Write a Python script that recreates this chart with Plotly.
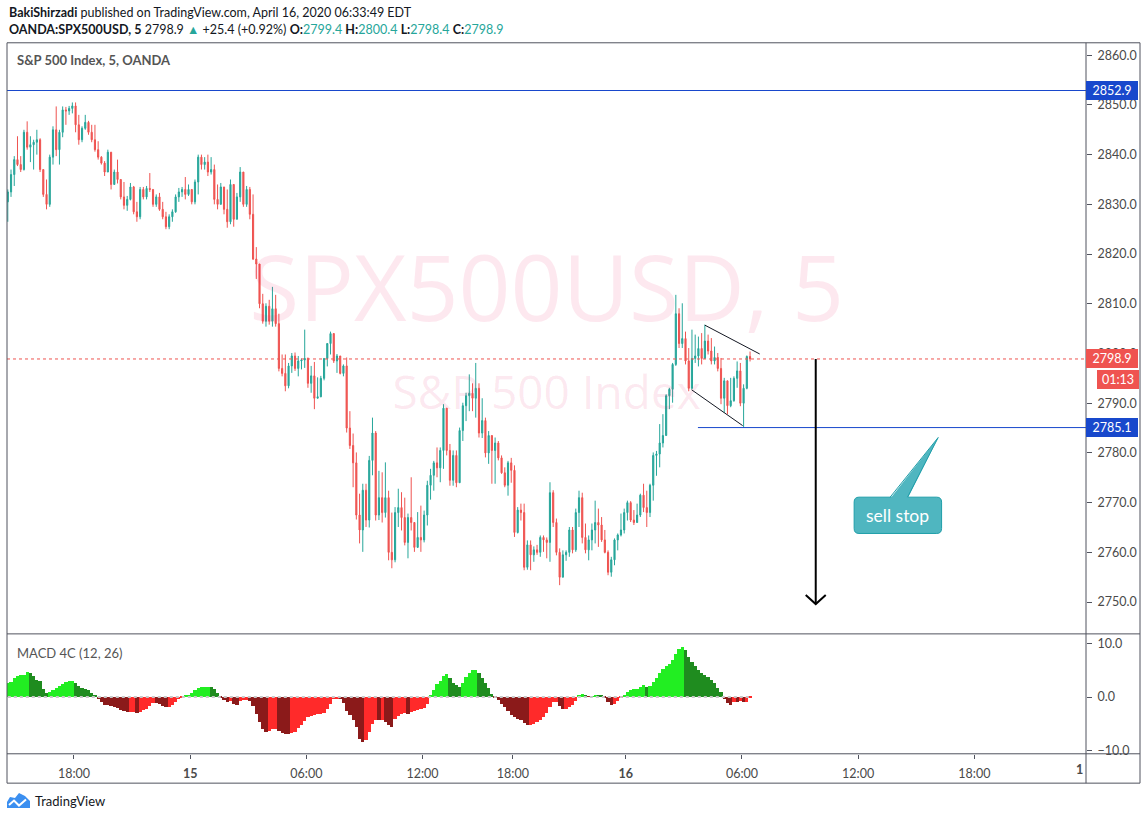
import numpy as np
import plotly.graph_objs as go

opens = [
    2830.5, 2832.5, 2836, 2839, 2838, 2837, 2844.5, 2841.5, 2842, 2842.5,
    2843, 2837, 2832, 2830, 2839.5, 2845, 2841, 2844.5, 2849, 2848.8,
    2849.3, 2849.8, 2846, 2843, 2845.3, 2846.5, 2844.5, 2843, 2841, 2839.5,
    2838.3, 2836.5, 2840.5, 2834, 2836.5, 2835, 2831.5, 2829.8, 2831, 2833.5,
    2828.5, 2827.5, 2833, 2831.5, 2833.2, 2833, 2830, 2831.5, 2829, 2827.5,
    2825.5, 2827.5, 2828.5, 2831.5, 2832.5, 2833, 2832, 2833, 2830.5, 2834.5,
    2839.5, 2838, 2838.5, 2836.5, 2837, 2831, 2830, 2833.5, 2829, 2826.5,
    2834, 2827, 2831.5, 2836.5, 2830, 2833, 2828, 2819, 2818, 2810,
    2806.5, 2809.5, 2806.5, 2809, 2806, 2797, 2796, 2793.5, 2797.5, 2799.5,
    2797, 2798.5, 2798.7, 2799, 2794, 2795.5, 2791, 2791.3, 2795, 2799,
    2802, 2804, 2798.5, 2799.5, 2796, 2797.5, 2785, 2781.5, 2778, 2767.5,
    2764.5, 2772.5, 2766.5, 2778.5, 2784, 2767.5, 2771, 2768, 2771, 2760,
    2758.5, 2768, 2769, 2767, 2762, 2767, 2766, 2761, 2763, 2762.5,
    2767.5, 2773.5, 2775.5, 2778, 2777, 2780.5, 2789, 2780.5, 2774.5, 2779.5,
    2774, 2784.5, 2789.5, 2791.5, 2792, 2791, 2793, 2784, 2786.5, 2780,
    2783.5, 2780.5, 2782, 2779, 2776, 2773.5, 2778, 2776.5, 2764, 2768.5,
    2768, 2757, 2761.5, 2759.5, 2760.5, 2760, 2763, 2762.5, 2762, 2772,
    2766, 2760, 2755, 2759.5, 2760, 2764.5, 2760.5, 2768, 2771, 2763,
    2760.5, 2762.5, 2764.5, 2766, 2765.5, 2762.5, 2760, 2756, 2758.5, 2762.5,
    2763.5, 2764.5, 2768, 2770, 2766.5, 2766, 2767.5, 2771.5, 2769, 2768,
    2773.5, 2779.5, 2779.8, 2782, 2783.5, 2791.5, 2792.8, 2797.8, 2808, 2802,
    2803, 2798.5, 2793, 2799, 2799.5, 2801, 2799, 2802.5, 2800.5, 2798.5,
    2799.2, 2797, 2791, 2794.5, 2789.5, 2790.5, 2795, 2796.5, 2790, 2793,
    2799.4,
]
highs = [
    2833, 2837, 2839.7, 2843.7, 2839.7, 2845, 2846.7, 2843.7, 2843, 2845,
    2843.3, 2837, 2835, 2840, 2845.7, 2849.7, 2845, 2849.7, 2849.6, 2849.8,
    2850.5, 2850.5, 2848, 2845.7, 2848, 2846.8, 2846, 2846, 2842.7, 2839.7,
    2838.7, 2841, 2840.5, 2837, 2839, 2835, 2834.5, 2831.7, 2834.3, 2833.7,
    2830.5, 2833.5, 2833.5, 2833.7, 2836.3, 2833, 2832, 2832.3, 2830.5, 2828.5,
    2828, 2829, 2832, 2833.3, 2833.5, 2835.5, 2834, 2833, 2835, 2840,
    2840, 2839.5, 2840, 2839.5, 2838, 2834, 2834.3, 2833.5, 2833, 2835,
    2834, 2832.3, 2837.5, 2836.5, 2833.7, 2833.5, 2832, 2821.4, 2818, 2812,
    2810.1, 2810.8, 2813.4, 2811.8, 2808, 2799.8, 2799.8, 2798.1, 2800.1, 2800.2,
    2799.5, 2799, 2804.8, 2799.2, 2797.5, 2798.3, 2795.2, 2795.5, 2799.1, 2802.1,
    2804.4, 2804.1, 2799.9, 2799.5, 2797.8, 2799.2, 2788.4, 2783.9, 2780.1, 2771.8,
    2773.8, 2773.8, 2779.4, 2787.1, 2784.4, 2776.4, 2776.1, 2778.1, 2772.4, 2768,
    2769.1, 2772.8, 2772.1, 2771, 2767.8, 2775.1, 2766.1, 2768.1, 2769.4, 2768.4,
    2774.4, 2776.8, 2778.4, 2781.1, 2781.1, 2789.8, 2789, 2781.8, 2780.5, 2780.5,
    2785.1, 2790.1, 2792.1, 2795.8, 2794, 2798.1, 2794, 2791, 2787.1, 2784.4,
    2783.5, 2783.1, 2782.4, 2779.5, 2777.1, 2778.4, 2779, 2777.5, 2769.1, 2769.8,
    2769.8, 2762.4, 2762.4, 2761.2, 2761.5, 2763.4, 2763.4, 2763, 2774.1, 2772.5,
    2766.8, 2760.8, 2760.4, 2760.4, 2765.1, 2765.1, 2768.8, 2772.4, 2772, 2765.8,
    2763.4, 2765.8, 2770.4, 2768.8, 2767.1, 2764.5, 2760.4, 2759.1, 2762.8, 2763.8,
    2767.8, 2768.8, 2770.4, 2770.3, 2768.5, 2769.8, 2771.8, 2773.8, 2772.4, 2773.8,
    2780.1, 2780.4, 2785.8, 2787.8, 2791.8, 2793.1, 2798.1, 2811.8, 2809.1, 2810.1,
    2804.4, 2801.1, 2804.8, 2803.8, 2803.4, 2804.1, 2805.8, 2803.8, 2803.1, 2801.4,
    2800.1, 2799.1, 2795.1, 2794.5, 2795.1, 2795.4, 2798.4, 2798.1, 2793.8, 2799.6,
    2800.4,
]
lows = [
    2826.5, 2831.5, 2833.7, 2837.7, 2836.5, 2836.8, 2841, 2838.5, 2837, 2840,
    2836.5, 2831.5, 2829, 2829.5, 2838, 2839.7, 2838, 2843.5, 2846, 2848,
    2848.3, 2844.5, 2842, 2842.5, 2845, 2844, 2842.5, 2840.6, 2839, 2838,
    2835.7, 2836.5, 2833, 2834, 2834.2, 2831, 2829, 2828.7, 2830.8, 2828,
    2826.5, 2827, 2831, 2831, 2832.5, 2829.5, 2829.5, 2828.7, 2827, 2825,
    2825, 2826.5, 2828.3, 2830.5, 2831.5, 2831, 2831.7, 2830, 2830, 2832,
    2837, 2837, 2835.7, 2836, 2830, 2829, 2830, 2828, 2825.3, 2826,
    2825.5, 2827, 2830.5, 2829.5, 2829.5, 2827, 2818.8, 2815, 2809.1, 2806,
    2805.4, 2805.8, 2805.4, 2805.4, 2796.4, 2795.4, 2792.4, 2793, 2796.1, 2796.5,
    2795.4, 2796.8, 2797.1, 2793.1, 2792.1, 2788.8, 2791, 2791.2, 2794.6, 2797.4,
    2799.8, 2798.1, 2796.1, 2795.8, 2795.4, 2784.1, 2780.8, 2773.1, 2766.6, 2761.8,
    2760.1, 2765.1, 2765, 2775.5, 2766.4, 2766.5, 2766, 2767, 2758.4, 2756.8,
    2758, 2765.1, 2764.4, 2761.4, 2758.8, 2764.4, 2760.1, 2761, 2760.1, 2762,
    2765.4, 2770.6, 2772.4, 2775.1, 2774.1, 2776.8, 2779.5, 2773.4, 2773.4, 2773.1,
    2774, 2782.4, 2786.4, 2788.4, 2788.4, 2787.1, 2783.1, 2783, 2779.1, 2777.8,
    2773.8, 2773.8, 2778.5, 2775.8, 2773.1, 2771.4, 2774, 2763.1, 2763.8, 2766.4,
    2756.4, 2756.5, 2756.4, 2758.1, 2759.5, 2759.1, 2760.1, 2758.8, 2758.1, 2765.1,
    2759.4, 2753.4, 2755, 2758.3, 2759.1, 2759.8, 2760.1, 2765.1, 2761.8, 2759.8,
    2758.4, 2760.4, 2761.8, 2761.1, 2762.1, 2759.8, 2755.4, 2755.1, 2757.4, 2760.4,
    2763.2, 2763.8, 2766.4, 2766.1, 2765.5, 2766, 2767.1, 2768.1, 2765.1, 2767.1,
    2770.4, 2775.4, 2777.1, 2781.1, 2783.5, 2788.8, 2790.1, 2797.5, 2801.1, 2801.1,
    2797.8, 2792.4, 2792.8, 2798.1, 2797.4, 2797.8, 2799, 2799.8, 2797.8, 2797.8,
    2796.4, 2789.8, 2788.1, 2787.8, 2789.2, 2790.3, 2793.1, 2789.4, 2785.1, 2792.8,
    2798.4,
]
closes = [
    2832.5, 2836, 2839, 2838, 2837, 2844.5, 2841.5, 2842, 2842.5, 2843,
    2837, 2832, 2830, 2839.5, 2845, 2841, 2844.5, 2849, 2848.8, 2849.3,
    2849.8, 2846, 2843, 2845.3, 2846.5, 2844.5, 2843, 2841, 2839.5, 2838.3,
    2836.5, 2840.5, 2834, 2836.5, 2835, 2831.5, 2829.8, 2831, 2833.5, 2828.5,
    2827.5, 2833, 2831.5, 2833.2, 2833, 2830, 2831.5, 2829, 2827.5, 2825.5,
    2827.5, 2828.5, 2831.5, 2832.5, 2833, 2832, 2833, 2830.5, 2834.5, 2839.5,
    2838, 2838.5, 2836.5, 2837, 2831, 2830, 2833.5, 2829, 2826.5, 2834,
    2827, 2831.5, 2836.5, 2830, 2833, 2828, 2819, 2818, 2810, 2806.5,
    2809.5, 2806.5, 2809, 2806, 2797, 2796, 2793.5, 2797.5, 2799.5, 2797,
    2798.5, 2798.7, 2799, 2794, 2795.5, 2791, 2791.3, 2795, 2799, 2802,
    2804, 2798.5, 2799.5, 2796, 2797.5, 2785, 2781.5, 2778, 2767.5, 2764.5,
    2772.5, 2766.5, 2778.5, 2784, 2767.5, 2771, 2768, 2771, 2760, 2758.5,
    2768, 2769, 2767, 2762, 2767, 2766, 2761, 2763, 2762.5, 2767.5,
    2773.5, 2775.5, 2778, 2777, 2780.5, 2789, 2780.5, 2774.5, 2779.5, 2774,
    2784.5, 2789.5, 2791.5, 2792, 2791, 2793, 2784, 2786.5, 2780, 2783.5,
    2780.5, 2782, 2779, 2776, 2773.5, 2778, 2776.5, 2764, 2768.5, 2768,
    2757, 2761.5, 2759.5, 2760.5, 2760, 2763, 2762.5, 2762, 2772, 2766,
    2760, 2755, 2759.5, 2760, 2764.5, 2760.5, 2768, 2771, 2763, 2760.5,
    2762.5, 2764.5, 2766, 2765.5, 2762.5, 2760, 2756, 2758.5, 2762.5, 2763.5,
    2764.5, 2768, 2770, 2766.5, 2766, 2767.5, 2771.5, 2769, 2768, 2773.5,
    2779.5, 2779.8, 2782, 2783.5, 2791.5, 2792.8, 2797.8, 2808, 2802, 2803,
    2798.5, 2793, 2799, 2799.5, 2801, 2799, 2802.5, 2800.5, 2798.5, 2799.2,
    2797, 2791, 2794.5, 2789.5, 2790.5, 2795, 2796.5, 2790, 2793, 2799.4,
    2798.9,
]
# MACD 4C (12, 26) histogram, one value per bar
macd_hist = [
    2.6, 2.8, 3.4, 3.8, 4.0, 4.1, 4.6, 4.4, 3.8, 3.2,
    2.9, 1.4, 0.7, 0.8, 1.3, 1.7, 2.0, 2.4, 2.8, 3.0,
    3.0, 2.5, 2.0, 1.6, 1.45, 1.2, 0.7, 0.2, -0.4, -1.0,
    -1.5, -1.6, -1.7, -1.9, -2.1, -2.4, -2.7, -2.8, -2.8, -2.8,
    -3.0, -2.8, -2.5, -2.2, -1.7, -1.1, -1.2, -1.4, -1.8, -2.0,
    -1.9, -1.5, -1.0, -0.5, -0.1, 0.3, 0.3, 0.6, 1.2, 1.6,
    1.75, 1.85, 1.85, 1.8, 1.4, 0.6, -0.1, -0.6, -1.0, -0.8,
    -1.4, -1.6, -0.8, -0.6, -0.6, -0.8, -1.8, -3.3, -4.8, -6.0,
    -6.5, -6.4, -6.0, -6.0, -6.3, -6.7, -6.9, -7.0, -6.8, -6.5,
    -5.8, -5.2, -4.5, -3.8, -3.6, -3.5, -3.3, -3.3, -3.0, -2.2,
    -1.4, -0.5, -0.4, -0.5, -1.1, -2.6, -3.5, -4.3, -5.7, -7.8,
    -8.4, -8.0, -6.6, -5.0, -4.3, -4.4, -4.4, -4.8, -5.2, -5.6,
    -4.2, -3.6, -3.3, -3.1, -3.2, -2.9, -2.6, -2.5, -2.3, -2.1,
    -1.4, 0.2, 1.3, 2.3, 3.0, 3.8, 4.2, 3.4, 2.6, 2.1,
    1.8, 2.6, 3.7, 4.5, 4.9, 4.9, 4.5, 3.5, 2.5, 1.6,
    0.5, -0.3, -0.7, -1.3, -2.0, -2.6, -3.4, -3.7, -4.1, -4.4,
    -4.9, -5.3, -5.3, -5.1, -4.7, -4.3, -3.7, -3.1, -1.9, -1.0,
    -1.0, -1.8, -2.2, -2.2, -2.0, -1.5, -0.8, 0.3, 0.5, 0.2,
    -0.05, 0.1, 0.4, 0.35, 0.2, -0.3, -0.9, -1.6, -1.4, -0.8,
    -0.2, 0.4, 0.9, 1.2, 1.4, 1.5, 1.8, 2.1, 1.8, 2.0,
    2.7, 3.5, 4.4, 5.1, 5.7, 6.1, 6.9, 8.0, 8.9, 9.3,
    8.6, 7.4, 6.5, 5.8, 5.0, 4.5, 4.0, 3.7, 3.2, 2.6,
    1.6, 0.9, -0.4, -1.1, -1.6, -0.9, -1.0, -0.8, -1.0, -0.9,
    -0.3,
]

# time axis in 5-minute slots, 0 = 15 Apr 00:00 (session breaks are compressed, as on TradingView)
time_ticks = [-72, 0, 72, 144, 200, 270, 342, 414, 486]
time_labels = ['18:00', '<b>15</b>', '06:00', '12:00', '18:00', '<b>16</b>', '06:00', '12:00', '18:00']
price_ticks = [2750, 2760, 2770, 2780, 2790, 2800, 2810, 2820, 2830, 2840, 2850, 2860]
macd_ticks = [-10, 0, 10]

last_price = 2798.9
resistance = 2852.9
sell_stop = 2785.1

# the page adds a few pixels below the figure, so the figure itself is kept a little shorter
W, H = 1147, 816
X_RANGE = [-113.5, 555.2]
UP, DOWN = '#26a69a', '#ef5350'
FRAME = '#50535e'
TEXT = '#131722'


def px(x):
    return x / W


def py(y):
    return 1 - y / H


bar_x = -113 + 2 * np.arange(len(closes))

hist_colors = []
for i, v in enumerate(macd_hist):
    prev = macd_hist[i - 1] if i > 0 else v - 1
    if v >= 0:
        hist_colors.append('#22ee22' if v >= prev else '#1f8c1f')
    else:
        hist_colors.append('#ff2a2a' if v >= prev else '#8b1a1a')

watermark = go.Scatter(
    x=[221, 221], y=[2811.2, 2791.1], mode='text',
    text=['SPX500USD, 5', 'S&P 500 Index'],
    textfont=dict(family='Open Sans', size=[91, 46], color='rgba(233,30,99,0.1)'),
    hoverinfo='skip', showlegend=False, xaxis='x', yaxis='y'
)

candles = go.Candlestick(
    x=bar_x, open=opens, high=highs, low=lows, close=closes,
    increasing=dict(line=dict(color=UP, width=1), fillcolor=UP),
    decreasing=dict(line=dict(color=DOWN, width=1), fillcolor=DOWN),
    whiskerwidth=0, showlegend=False, xaxis='x', yaxis='y'
)

hist = go.Bar(
    x=bar_x, y=macd_hist, width=2,
    marker=dict(color=hist_colors, line=dict(width=0)),
    showlegend=False, xaxis='x2', yaxis='y2'
)

# chart drawings (time slot, price)
wedge_upper = [(319.0, 2805.7), (353.0, 2799.9)]
wedge_lower = [(310.8, 2792.7), (342.4, 2785.5)]
support_start = 314.7
arrow_x, arrow_end = 387.7, 2749.6
callout = dict(x0=411.5, x1=465.7, y0=2763.8, y1=2771.1)
callout_tail = [(433.8, 2771.1), (463.6, 2783.1), (444.6, 2771.1)]

shapes = []


def line(x0, y0, x1, y1, color, width=1, dash='solid', xref='x', yref='y'):
    shapes.append(dict(type='line', x0=x0, y0=y0, x1=x1, y1=y1, xref=xref, yref=yref,
                       line=dict(color=color, width=width, dash=dash), layer='above'))


line(X_RANGE[0], resistance, X_RANGE[1], resistance, '#1848cc')
line(support_start, sell_stop, X_RANGE[1], sell_stop, '#1848cc')
line(X_RANGE[0], last_price, X_RANGE[1], last_price, DOWN, dash='dot')
line(*wedge_upper[0], *wedge_upper[1], '#131722')
line(*wedge_lower[0], *wedge_lower[1], '#131722')
line(arrow_x, last_price, arrow_x, arrow_end, '#000000', width=2)
shapes.append(dict(type='path', xref='x', yref='y', layer='above',
                   path=f'M {arrow_x - 6.2},{arrow_end + 1.8} L {arrow_x},{arrow_end} L {arrow_x + 6.2},{arrow_end + 1.8}',
                   line=dict(color='#000000', width=2), fillcolor='rgba(0,0,0,0)'))
line(bar_x[0], 0, bar_x[-1], 0, '#c8c8c8', width=2, dash='dot', xref='x2', yref='y2')

# callout box "sell stop"
c = callout
rx, ry = 3.0, 1.0
box_path = (f"M {c['x0'] + rx},{c['y1']} L {c['x1'] - rx},{c['y1']} Q {c['x1']},{c['y1']} {c['x1']},{c['y1'] - ry} "
            f"L {c['x1']},{c['y0'] + ry} Q {c['x1']},{c['y0']} {c['x1'] - rx},{c['y0']} "
            f"L {c['x0'] + rx},{c['y0']} Q {c['x0']},{c['y0']} {c['x0']},{c['y0'] + ry} "
            f"L {c['x0']},{c['y1'] - ry} Q {c['x0']},{c['y1']} {c['x0'] + rx},{c['y1']} Z")
shapes.append(dict(type='path', xref='x', yref='y', layer='above', path=box_path,
                   fillcolor='#4fb6c0', line=dict(color='#1f9ea9', width=1)))
t = callout_tail
shapes.append(dict(type='path', xref='x', yref='y', layer='above',
                   path=f'M {t[0][0]},{t[0][1] - 0.3} L {t[1][0]},{t[1][1]} L {t[2][0]},{t[2][1] - 0.3} Z',
                   fillcolor='#4fb6c0', line=dict(width=0)))
shapes.append(dict(type='path', xref='x', yref='y', layer='above',
                   path=f'M {t[0][0]},{t[0][1]} L {t[1][0]},{t[1][1]} L {t[2][0]},{t[2][1]}',
                   fillcolor='rgba(0,0,0,0)', line=dict(color='#1f9ea9', width=1)))

# pane frame
for y in [43, 637, 757.5, 787]:
    line(px(7), py(y), px(1140), py(y), FRAME, xref='paper', yref='paper')
for x in [7, 1086, 1140]:
    line(px(x), py(43), px(x), py(787), FRAME, xref='paper', yref='paper')

# TradingView logo
logo = [(7, 812), (7, 806), (10, 801), (15, 802), (19, 797), (25, 800), (30, 805), (30, 812)]
shapes.append(dict(type='path', xref='paper', yref='paper', layer='above',
                   path='M ' + ' L '.join(f'{px(a)},{py(b)}' for a, b in logo) + ' Z',
                   fillcolor='#3b8ff0', line=dict(width=0)))
zig = [(9, 809), (14, 804.5), (19, 809.5), (26, 803.5)]
shapes.append(dict(type='path', xref='paper', yref='paper', layer='above',
                   path='M ' + ' L '.join(f'{px(a)},{py(b)}' for a, b in zig),
                   fillcolor='rgba(0,0,0,0)', line=dict(color='white', width=2)))


def teal(s):
    return f"<span style='color:{UP}'>{s}</span>"


def label(x, y, text, size=13, color=TEXT, anchor='left', yref='paper'):
    return dict(x=px(x), y=py(y) if yref == 'paper' else y, xref='paper', yref=yref,
                xanchor=anchor, yanchor='middle', showarrow=False, text=text,
                font=dict(size=size, color=color))


annotations = [
    label(7, 13, '<b>BakiShirzadi</b> published on TradingView.com, April 16, 2020 06:33:49 EDT', 12.5),
    label(7, 30, (f"<b>OANDA:SPX500USD, 5</b> 2798.9 {teal('▲')} +25.4 (+0.92%) "
                  f"<b>O:</b>{teal('2799.4')} <b>H:</b>{teal('2800.4')} <b>L:</b>{teal('2798.4')} <b>C:</b>{teal('2798.9')}"),
          12.5),
    label(15, 60, '<b>S&P 500 Index, 5, OANDA</b>', 13, '#555555'),
    label(15, 656, 'MACD 4C (12, 26)', 13, '#555555'),
    label(33, 805, 'TradingView', 13, TEXT),
    label(1085, 773, '<b>1</b>', 12.5, '#4a4a4a', anchor='right'),
    dict(x=(callout['x0'] + callout['x1']) / 2, y=(callout['y0'] + callout['y1']) / 2, xref='x', yref='y',
         xanchor='center', yanchor='middle', showarrow=False, text='sell stop', font=dict(size=17.5, color='white')),
]
for value, color in [(resistance, '#1848cc'), (sell_stop, '#1848cc'), (last_price, DOWN)]:
    annotations.append(dict(x=px(1112), y=value, xref='paper', yref='y', xanchor='center', yanchor='middle',
                            showarrow=False, text=f'{value:.1f}', font=dict(size=12.5, color='white'),
                            bgcolor=color, bordercolor=color, width=48, height=15, borderpad=1))
annotations.append(dict(x=px(1118), y=py(381.5), xref='paper', yref='paper', xanchor='center', yanchor='middle',
                        showarrow=False, text='01:13', font=dict(size=12.5, color='white'),
                        bgcolor=DOWN, bordercolor=DOWN, width=38, height=15, borderpad=1))

axis_font = dict(size=12.5, color='#4a4a4a')
layout = go.Layout(
    width=W, height=H, autosize=False,
    margin=dict(l=0, r=0, t=0, b=0),
    paper_bgcolor='white', plot_bgcolor='white',
    font=dict(family='Lato, Open Sans, sans-serif', color=TEXT),
    showlegend=False, boxgap=0.5, bargap=0,
    xaxis=dict(domain=[px(7), px(1086)], range=X_RANGE, anchor='y', showticklabels=False,
               showgrid=False, zeroline=False, showline=False, rangeslider=dict(visible=False)),
    xaxis2=dict(domain=[px(7), px(1086)], range=X_RANGE, anchor='y2', tickvals=time_ticks, ticktext=time_labels,
                ticks='outside', ticklen=4, tickcolor=FRAME, tickfont=axis_font, ticklabelstandoff=4,
                showgrid=False, zeroline=False, showline=False),
    yaxis=dict(domain=[py(637), py(43)], range=[2743.6, 2862.5], side='right', anchor='x',
               tickvals=price_ticks, tickformat='.1f', ticks='outside', ticklen=5, tickcolor=FRAME,
               tickfont=axis_font, ticklabelstandoff=3, showgrid=False, zeroline=False, showline=False),
    yaxis2=dict(domain=[py(757.5), py(637.5)], range=[-10.56, 11.67], side='right', anchor='x2',
                tickvals=macd_ticks, tickformat='.1f', ticks='outside', ticklen=5, tickcolor=FRAME,
                tickfont=axis_font, ticklabelstandoff=3, showgrid=False, zeroline=False, showline=False),
    shapes=shapes, annotations=annotations,
)

fig = go.Figure(data=[watermark, candles, hist], layout=layout)
fig.write_html("out.html", config={'displayModeBar': False},
               post_script="document.documentElement.style.overflow='hidden';"
                           "document.body.style.margin='0';document.body.style.overflow='hidden';")
